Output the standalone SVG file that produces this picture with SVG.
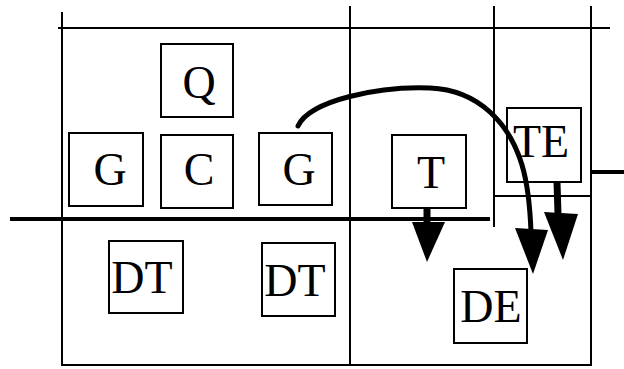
<svg xmlns="http://www.w3.org/2000/svg" width="624" height="369" viewBox="0 0 624 369">
<style>
.ln{stroke:#000;stroke-width:2;fill:none}
.thk{stroke:#000;stroke-width:4;fill:none}
.box{fill:#fff;stroke:#000;stroke-width:2}
.lbl{font-family:"Liberation Serif","Times New Roman",serif;font-size:46px;fill:#000;text-anchor:middle}
.stem{stroke:#000;stroke-width:7;fill:none}
.curve{stroke:#000;stroke-width:5;fill:none;stroke-linecap:round}
.head{fill:#000}
</style>
<rect width="624" height="369" fill="#fff"/>
<g id="grid">
<line class="ln" x1="58" y1="28" x2="610" y2="28"/>
<line class="ln" x1="62" y1="12" x2="62" y2="365"/>
<line class="ln" x1="350" y1="6" x2="350" y2="365"/>
<line class="ln" x1="494" y1="6" x2="494" y2="227"/>
<line class="ln" x1="591" y1="6" x2="591" y2="365"/>
<line class="ln" x1="61" y1="365" x2="592" y2="365"/>
<line class="ln" x1="494" y1="196" x2="591" y2="196"/>
<line class="thk" x1="10" y1="219" x2="490" y2="219"/>
<line class="thk" x1="591" y1="172" x2="624" y2="172"/>
</g>
<g id="node-Q"><rect class="box" x="161" y="44" width="72" height="73"/><text class="lbl" x="199" y="98">Q</text></g>
<g id="node-G1"><rect class="box" x="69" y="133" width="74" height="73"/><text class="lbl" x="110" y="185">G</text></g>
<g id="node-C"><rect class="box" x="161" y="135" width="72" height="73"/><text class="lbl" x="199" y="185">C</text></g>
<g id="node-G2"><rect class="box" x="259" y="133" width="73" height="72"/><text class="lbl" x="299" y="185">G</text></g>
<g id="node-T"><rect class="box" x="392" y="135" width="74" height="73"/><text class="lbl" x="431" y="188">T</text></g>
<g id="node-TE"><rect class="box" x="507" y="108" width="74" height="74"/><text class="lbl" x="541" y="157">TE</text></g>
<g id="node-DT1"><rect class="box" x="109" y="241" width="74" height="72"/><text class="lbl" x="142" y="293">DT</text></g>
<g id="node-DT2"><rect class="box" x="262" y="243" width="73" height="73"/><text class="lbl" x="295" y="296">DT</text></g>
<g id="node-DE"><rect class="box" x="454" y="269" width="73" height="74"/><text class="lbl" x="491" y="322">DE</text></g>
<g id="connectors">
<path class="curve" d="M298,126 C310,100 380,86 430,88 C480,90 510,125 522,165 C528,185 530,205 531,232"/>
<polygon class="head" points="515,228 548,230 533,274"/>
<line class="stem" x1="427" y1="207" x2="427" y2="224"/>
<polygon class="head" points="412,222 445,222 427,262"/>
<line class="stem" x1="557" y1="182" x2="558" y2="214"/>
<polygon class="head" points="544,212 578,214 563,260"/>
</g>
</svg>
